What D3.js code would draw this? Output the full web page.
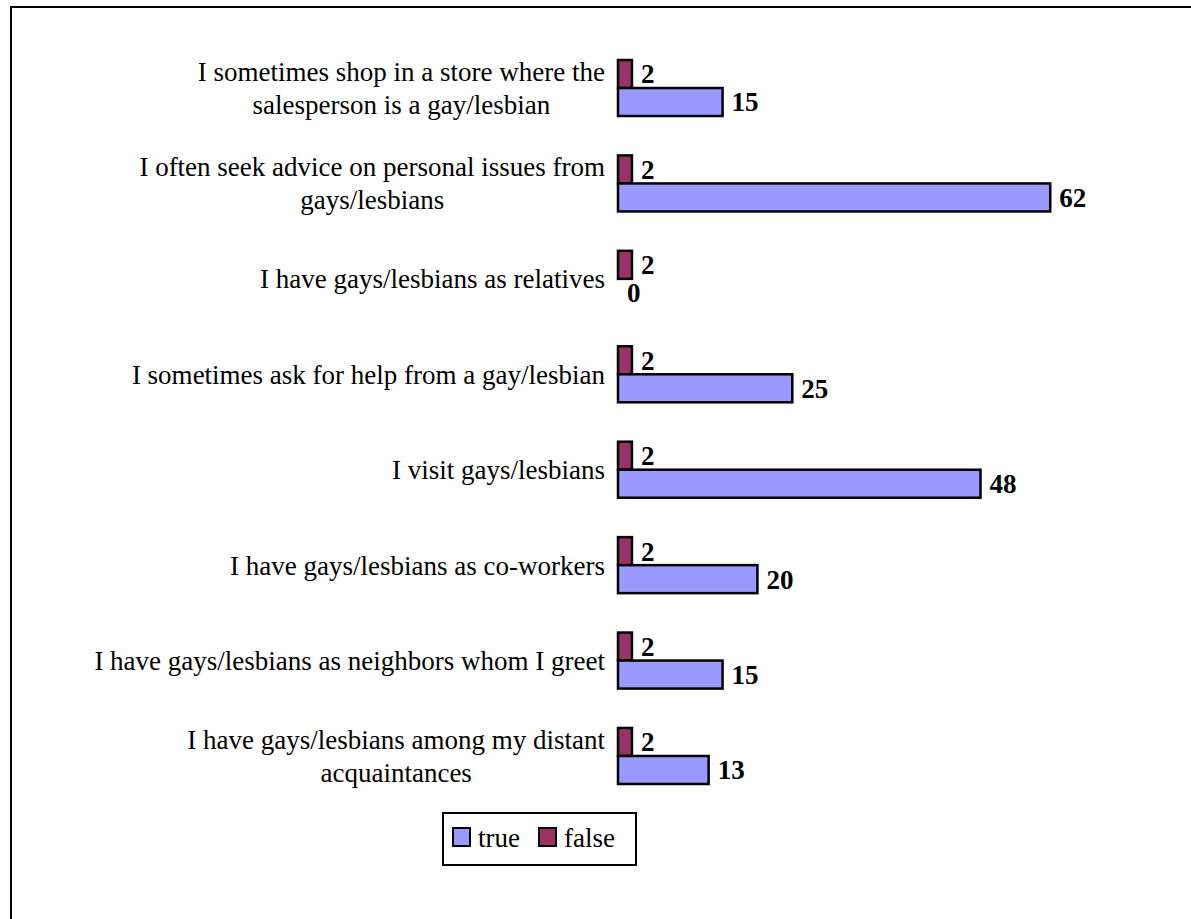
<!DOCTYPE html>
<html>
<head>
<meta charset="utf-8">
<script src="https://cdn.jsdelivr.net/npm/d3@7"></script>
<style>
  html, body { margin: 0; padding: 0; background: #fff; }
  svg { display: block; }
  text { font-family: "Liberation Serif", "Times New Roman", serif; fill: #000; }
</style>
</head>
<body>
<svg id="chart" width="1191" height="919"></svg>
<script>
// ---- data ----
const categories = [
  "I sometimes shop in a store where the\nsalesperson is a gay/lesbian",
  "I often seek advice on personal issues from\ngays/lesbians",
  "I have gays/lesbians as relatives",
  "I sometimes ask for help from a gay/lesbian",
  "I visit gays/lesbians",
  "I have gays/lesbians as co-workers",
  "I have gays/lesbians as neighbors whom I greet",
  "I have gays/lesbians among my distant\nacquaintances"
];
const seriesNames = ["true", "false"];
const trueValues  = [15, 62, 0, 25, 52, 20, 15, 13];   // bar lengths as drawn
const trueLabels  = ["15", "62", "0", "25", "48", "20", "15", "13"]; // printed labels
const falseValues = [2, 2, 2, 2, 2, 2, 2, 2];
const falseLabels = ["2", "2", "2", "2", "2", "2", "2", "2"];
const colors = { "true": "#9999FF", "false": "#993366" };

// ---- layout ----
const svg = d3.select("#chart");
const fontSize = 27;

// outer frame
svg.append("rect")
  .attr("x", 11).attr("y", 7).attr("width", 1300).attr("height", 1100)
  .attr("fill", "none").attr("stroke", "#000").attr("stroke-width", 2);

const y = d3.scaleBand()
  .domain(categories)
  .range([40.3, 803.7])
  .paddingInner(0.413)
  .paddingOuter(0.2065);

const x = d3.scaleLinear().domain([0, 70]).range([618, 1106]);

const sub = d3.scaleBand().domain(["false", "true"]).range([0, y.bandwidth()]);

const rows = categories.map((c, i) => ({
  cat: c,
  bars: [
    { key: "false", value: falseValues[i], label: falseLabels[i] },
    { key: "true",  value: trueValues[i],  label: trueLabels[i] }
  ]
}));

const g = svg.append("g");
const groups = g.selectAll("g.grp").data(rows).join("g")
  .attr("class", "grp")
  .attr("transform", d => `translate(0,${y(d.cat)})`);

groups.selectAll("rect.bar").data(d => d.bars.filter(b => b.value > 0)).join("rect")
  .attr("class", "bar")
  .attr("x", x(0))
  .attr("y", b => sub(b.key))
  .attr("width", b => x(b.value) - x(0))
  .attr("height", sub.bandwidth())
  .attr("fill", b => colors[b.key])
  .attr("stroke", "#000")
  .attr("stroke-width", 2.5);

groups.selectAll("text.val").data(d => d.bars).join("text")
  .attr("class", "val")
  .attr("x", b => x(b.value) + 9)
  .attr("y", b => sub(b.key) + sub.bandwidth() / 2)
  .attr("dy", "0.35em")
  .attr("font-weight", "bold")
  .attr("font-size", fontSize)
  .text(b => b.label);

// category labels (right-aligned block, lines centered within block)
const labelRight = 605;
const lineH = 33;
categories.forEach(c => {
  const lines = c.split("\n");
  const cy = y(c) + y.bandwidth() / 2;
  const t = svg.append("text").attr("font-size", fontSize);
  const spans = lines.map((ln, k) =>
    t.append("tspan").text(ln)
      .attr("y", cy + (k - (lines.length - 1) / 2) * lineH)
      .attr("dy", "0.35em"));
  const widths = spans.map(s => s.node().getComputedTextLength());
  const maxW = d3.max(widths);
  spans.forEach(s => s.attr("x", labelRight - maxW / 2).attr("text-anchor", "middle"));
});

// legend
const legend = svg.append("g");
legend.append("rect")
  .attr("x", 443).attr("y", 813).attr("width", 193).attr("height", 52)
  .attr("fill", "#fff").attr("stroke", "#000").attr("stroke-width", 2);
const legX = [453, 539];
seriesNames.forEach((s, i) => {
  legend.append("rect")
    .attr("x", legX[i]).attr("y", 828).attr("width", 17).attr("height", 18)
    .attr("fill", colors[s]).attr("stroke", "#000").attr("stroke-width", 2);
  legend.append("text")
    .attr("x", legX[i] + 25).attr("y", 847)
    .attr("font-size", fontSize)
    .text(s);
});
</script>
</body>
</html>
